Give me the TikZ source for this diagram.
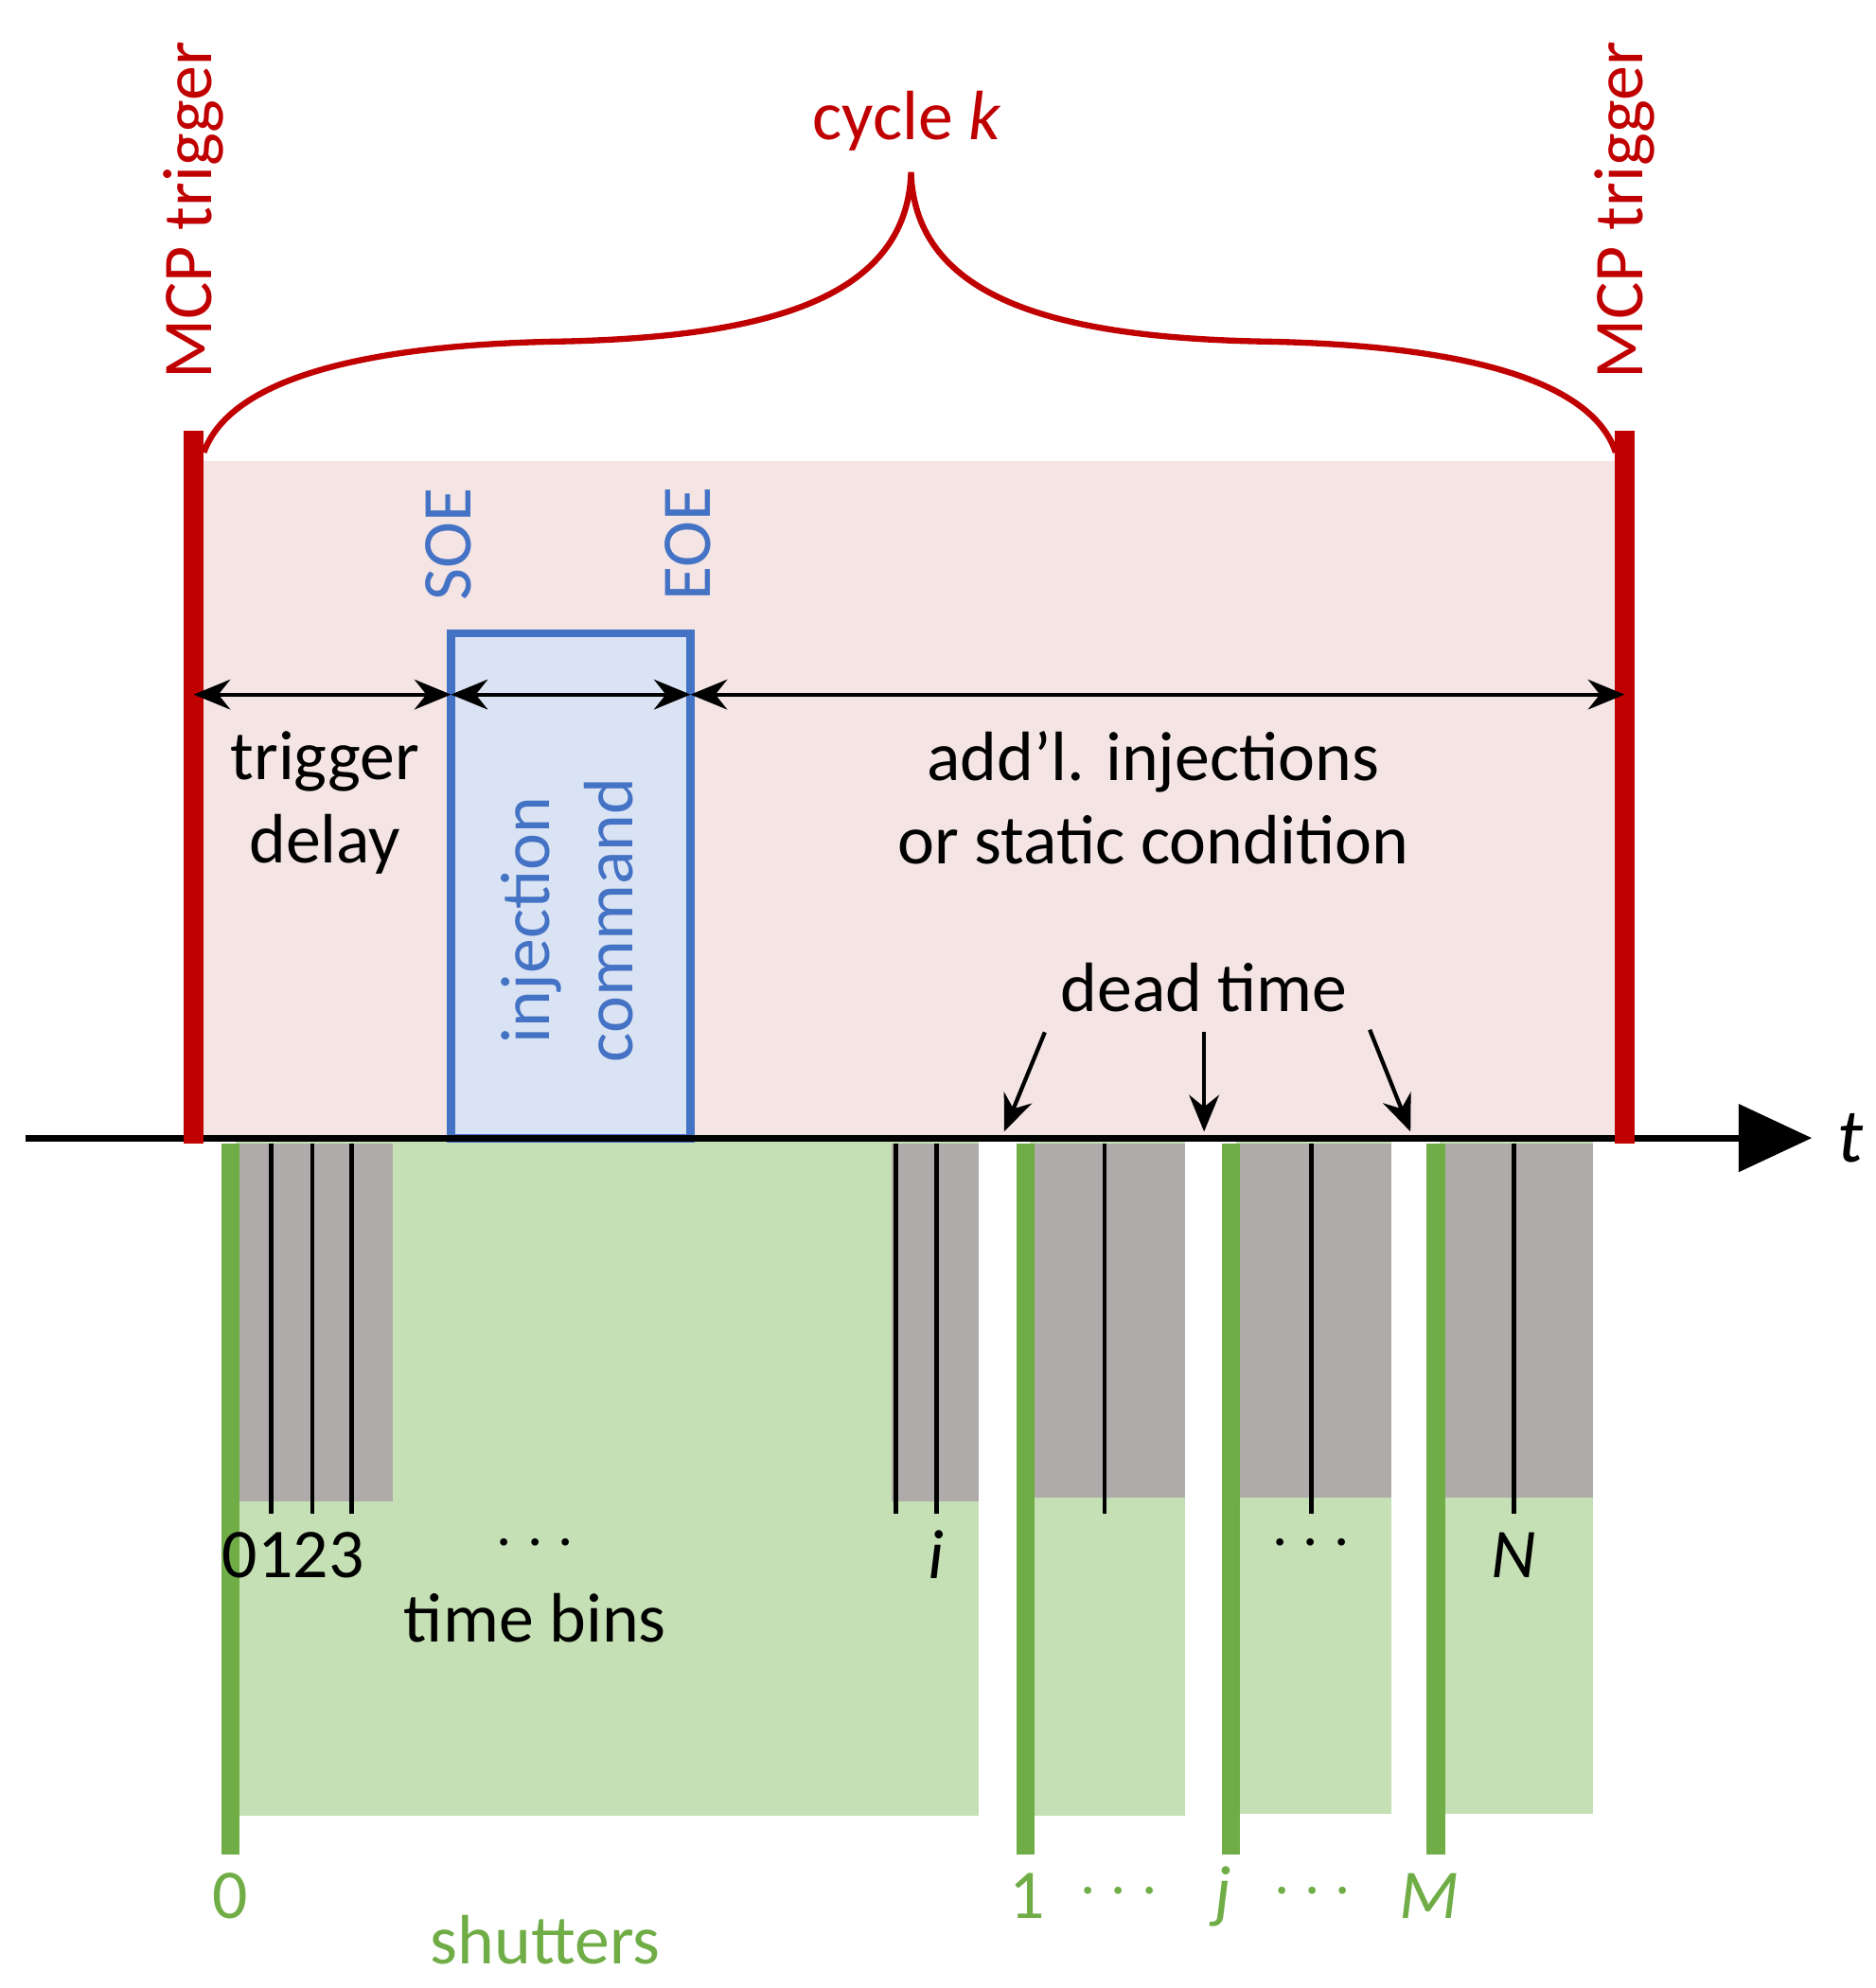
\documentclass[tikz,border=0pt]{standalone}
\usepackage{fontspec}
\setmainfont{Carlito}
\usetikzlibrary{arrows.meta}
\definecolor{mred}{HTML}{C00000}
\definecolor{pinkbg}{HTML}{F4E4E4}
\definecolor{lblue}{HTML}{DAE3F3}
\definecolor{mblue}{HTML}{4472C4}
\definecolor{lgreen}{HTML}{C5E0B4}
\definecolor{mgreen}{HTML}{70AD47}
\definecolor{mgray}{HTML}{AFABAB}
\tikzset{
 txt/.style={font=\fontsize{21}{25}\selectfont,inner sep=0pt,align=center},
 dim/.style={line width=1.2pt,{Stealth[length=11pt,width=9pt]}-{Stealth[length=11pt,width=9pt]}},
 pt/.style={line width=1.2pt,-{Stealth[length=11pt,width=9pt]}},
 bin/.style={line width=1.3pt},
 shut/.style={mgreen,line width=5.5pt},
 trig/.style={mred,line width=6pt},
}
\begin{document}
\begin{tikzpicture}[x=0.013465cm,y=-0.013465cm]
\useasboundingbox (0,0) rectangle (1472,1560);
% backgrounds
\fill[pinkbg] (152,362) rectangle (1275,893);
\fill[lgreen] (185,893) rectangle (768,1425);
\fill[lgreen] (808,893) rectangle (930,1425);
\fill[lgreen] (970,893) rectangle (1092,1423);
\fill[lgreen] (1130,893) rectangle (1250,1423);
\fill[mgray] (185,897) rectangle (308,1178);
\fill[mgray] (700,897) rectangle (768,1178);
\fill[mgray] (808,897) rectangle (930,1175);
\fill[mgray] (970,897) rectangle (1092,1175);
\fill[mgray] (1130,897) rectangle (1250,1175);
% time bins
\foreach \x in {182,213,245,276,703,735,805,867,966,1029,1127,1188}
  \draw[bin] (\x,897) -- (\x,1188);
% shutters
\foreach \x in {181,805,966,1127}
  \draw[shut] (\x,897) -- (\x,1455);
% injection box
\node[draw=mblue,fill=lblue,line width=2.5pt,minimum width=188*0.013465cm,minimum height=396*0.013465cm,inner sep=0pt] (box) at (448,695) {};
\node[txt,mblue,rotate=90] (inj) at (445,722) {injection\\command};
\node[txt,mblue,rotate=90,anchor=west] (soe) at (352,472) {SOE};
\node[txt,mblue,rotate=90,anchor=west] (eoe) at (540,472) {EOE};
% axis
\coordinate (a0) at (20,893);
\coordinate (a1) at (1422,893);
\draw[line width=2pt,-{Triangle[length=22pt,width=20pt]}] (a0) -- (a1);
\node[txt,font=\fontsize{23}{27}\selectfont\itshape] (t) at (1452,893) {t};
% triggers
\draw[trig] (152,338) -- (152,897);
\draw[trig] (1275,338) -- (1275,897);
\node[txt,mred,rotate=90] (mcp1) at (152,165) {MCP trigger};
\node[txt,mred,rotate=90] (mcp2) at (1275,165) {MCP trigger};
% brace
\draw[mred,line width=1.8pt] (160,355) .. controls (185,285) and (330,270) .. (437,268)
  .. controls (600,265) and (712,235) .. (715,135)
  .. controls (718,235) and (830,265) .. (993,268)
  .. controls (1100,270) and (1245,285) .. (1268,355);
\node[txt,mred] (cyc) at (712,95) {cycle \textit{k}};
% dimension arrows
\coordinate (d0) at (152,545); \coordinate (d1) at (354,545);
\coordinate (d2) at (542,545); \coordinate (d3) at (1275,545);
\draw[dim] (d0) -- (d1);
\draw[dim] (d1) -- (d2);
\draw[dim] (d2) -- (d3);
\node[txt] (td) at (255,630) {trigger\\delay};
\node[txt] (add) at (905,626) {add’l. injections\\or static condition};
% dead time
\node[txt] (dt) at (945,775) {dead time};
\coordinate (p1) at (788,888); \coordinate (p2) at (945,888); \coordinate (p3) at (1107,888);
\draw[pt] (820,810) -- (p1);
\draw[pt] (945,810) -- (p2);
\draw[pt] (1075,808) -- (p3);
% bin labels
\node[txt] (b0) at (230,1220) {0123};
\node[txt] (bd1) at (420,1212) {$\cdots$};
\node[txt] (bi) at (735,1220) {\textit{i}};
\node[txt] (bd2) at (1029,1212) {$\cdots$};
\node[txt] (bN) at (1188,1220) {\textit{N}};
\node[txt] (tb) at (420,1270) {time bins};
% shutter labels
\node[txt,mgreen] (s0) at (181,1488) {0};
\node[txt,mgreen] (s1) at (806,1488) {1};
\node[txt,mgreen] (sd1) at (878,1485) {$\cdots$};
\node[txt,mgreen] (sj) at (960,1488) {\textit{j}};
\node[txt,mgreen] (sd2) at (1030,1485) {$\cdots$};
\node[txt,mgreen] (sM) at (1122,1488) {\textit{M}};
\node[txt,mgreen] (sh) at (428,1522) {shutters};
\end{tikzpicture}
\end{document}
